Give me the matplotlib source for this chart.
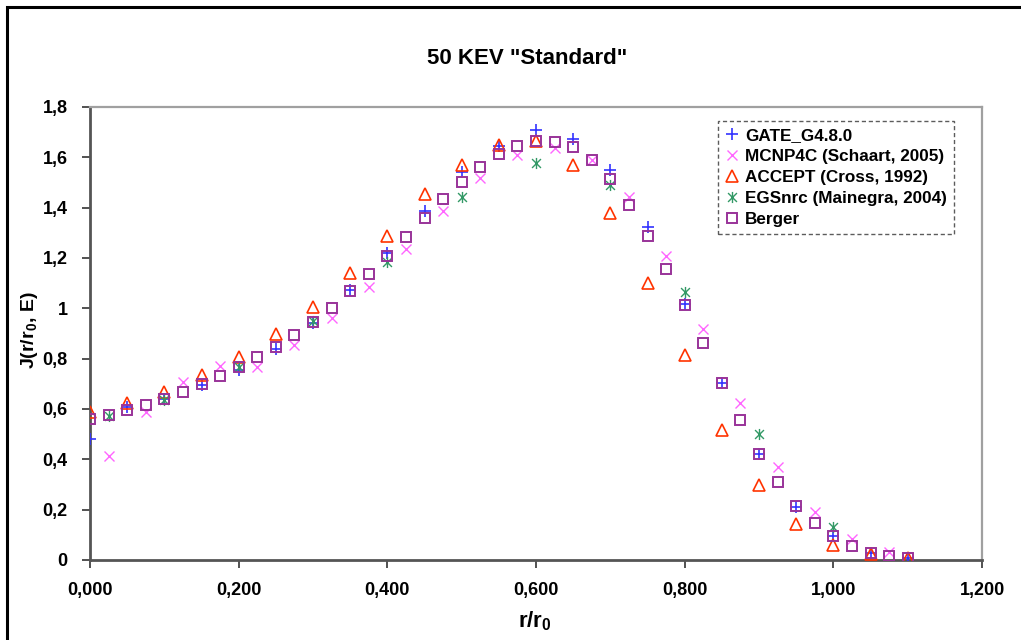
import matplotlib
matplotlib.use("Agg")
import matplotlib.pyplot as plt
from matplotlib.path import Path
from matplotlib.patches import Rectangle
from matplotlib.ticker import FuncFormatter, MultipleLocator

# ---------------- data ----------------
title = '50 KEV "Standard"'
xlabel = r'r/r$_{\mathbf{0}}$'
ylabel = r'J(r/r$_{\mathbf{0}}$, E)'

gate_x = [0.0, 0.05, 0.1, 0.15, 0.2, 0.25, 0.3, 0.35, 0.4, 0.45, 0.5, 0.55,
          0.6, 0.65, 0.7, 0.75, 0.8, 0.85, 0.9, 0.95, 1.0, 1.05, 1.1]
gate_y = [0.48, 0.609, 0.64, 0.695, 0.755, 0.839, 0.943, 1.072, 1.218, 1.388,
          1.543, 1.645, 1.707, 1.674, 1.548, 1.325, 1.016, 0.705, 0.42, 0.21,
          0.095, 0.026, 0.007]

mcnp_x = [0.025, 0.075, 0.125, 0.175, 0.225, 0.275, 0.325, 0.375, 0.425, 0.475,
          0.525, 0.575, 0.625, 0.675, 0.725, 0.775, 0.825, 0.875, 0.925, 0.975,
          1.025, 1.075]
mcnp_y = [0.415, 0.59, 0.707, 0.77, 0.768, 0.854, 0.96, 1.086, 1.237, 1.387,
          1.517, 1.609, 1.636, 1.589, 1.444, 1.208, 0.918, 0.625, 0.371, 0.19,
          0.085, 0.033]

accept_x = [0.0, 0.05, 0.1, 0.15, 0.2, 0.25, 0.3, 0.35, 0.4, 0.45, 0.5, 0.55,
            0.6, 0.65, 0.7, 0.75, 0.8, 0.85, 0.9, 0.95, 1.0, 1.05, 1.1]
accept_y = [0.59, 0.625, 0.669, 0.735, 0.805, 0.898, 1.007, 1.142, 1.287, 1.454,
            1.569, 1.649, 1.666, 1.569, 1.377, 1.102, 0.815, 0.517, 0.298, 0.143,
            0.06, 0.024, 0.007]

egs_x = [0.025, 0.1, 0.2, 0.3, 0.4, 0.5, 0.6, 0.7, 0.8, 0.9, 1.0]
egs_y = [0.572, 0.636, 0.768, 0.95, 1.185, 1.441, 1.579, 1.49, 1.066, 0.499, 0.13]

berger_x = [0.0, 0.025, 0.05, 0.075, 0.1, 0.125, 0.15, 0.175, 0.2, 0.225, 0.25,
            0.275, 0.3, 0.325, 0.35, 0.375, 0.4, 0.425, 0.45, 0.475, 0.5, 0.525,
            0.55, 0.575, 0.6, 0.625, 0.65, 0.675, 0.7, 0.725, 0.75, 0.775, 0.8,
            0.825, 0.85, 0.875, 0.9, 0.925, 0.95, 0.975, 1.0, 1.025, 1.05, 1.075,
            1.1]
berger_y = [0.559, 0.575, 0.596, 0.615, 0.638, 0.669, 0.699, 0.731, 0.766, 0.805,
            0.846, 0.894, 0.947, 1.0, 1.069, 1.136, 1.208, 1.285, 1.358, 1.433,
            1.501, 1.56, 1.613, 1.645, 1.666, 1.662, 1.642, 1.589, 1.514, 1.411,
            1.289, 1.156, 1.013, 0.861, 0.705, 0.556, 0.42, 0.309, 0.216, 0.146,
            0.095, 0.056, 0.029, 0.017, 0.007]

labels = ['GATE_G4.8.0', 'MCNP4C (Schaart, 2005)', 'ACCEPT (Cross, 1992)',
          'EGSnrc (Mainegra, 2004)', 'Berger']

# ---------------- style ----------------
FONT = 'Liberation Sans'
plt.rcParams['font.family'] = [FONT, 'DejaVu Sans']
plt.rcParams['mathtext.fontset'] = 'custom'
plt.rcParams['mathtext.rm'] = FONT + ':bold'
plt.rcParams['mathtext.bf'] = FONT + ':bold'
plt.rcParams['mathtext.it'] = FONT + ':bold'

W, H = 1021, 640
fig = plt.figure(figsize=(W / 100, H / 100), dpi=100)

# outer chart border (black)
fig.patches.append(Rectangle((7 / W, -0.05), 1.1, 1 - 7 / H + 0.05,
                             transform=fig.transFigure, fill=False,
                             edgecolor='black', linewidth=2.2))

ax = fig.add_axes([90 / W, 80 / H, 892 / W, 453 / H])
ax.set_xlim(0, 1.2)
ax.set_ylim(0, 1.8)

# asterisk marker (x with vertical bar)
star = Path([(-0.8, -0.8), (0.8, 0.8), (-0.8, 0.8), (0.8, -0.8), (0, -1.0), (0, 1.0)],
            [Path.MOVETO, Path.LINETO] * 3)

ax.plot(gate_x, gate_y, linestyle='none', marker='+', markersize=9,
        markeredgewidth=1.2, color='#3333FF', label=labels[0], zorder=3)
ax.plot(mcnp_x, mcnp_y, linestyle='none', marker='x', markersize=7.5,
        markeredgewidth=1.0, color='#FF66FF', label=labels[1], zorder=3)
ax.plot(accept_x, accept_y, linestyle='none', marker='^', markersize=8.5,
        markerfacecolor='none', markeredgewidth=1.2, color='#FF3300',
        label=labels[2], zorder=3)
ax.plot(egs_x, egs_y, linestyle='none', marker=star, markersize=8,
        markeredgewidth=1.0, color='#339966', markerfacecolor='none',
        label=labels[3], zorder=3)
ax.plot(berger_x, berger_y, linestyle='none', marker='s', markersize=7.5,
        markerfacecolor='none', markeredgewidth=1.4, color='#993399',
        label=labels[4], zorder=3)

# spines
for s in ['left', 'bottom']:
    ax.spines[s].set_color('#555555')
    ax.spines[s].set_linewidth(2.0)
for s in ['top', 'right']:
    ax.spines[s].set_color('#A0A0A0')
    ax.spines[s].set_linewidth(1.6)

ax.xaxis.set_major_locator(MultipleLocator(0.2))
ax.yaxis.set_major_locator(MultipleLocator(0.2))
ax.xaxis.set_major_formatter(FuncFormatter(lambda v, p: f'{v:.3f}'.replace('.', ',')))


def yfmt(v, p):
    if abs(v - round(v)) < 1e-9:
        return f'{int(round(v))}'
    return f'{v:.1f}'.replace('.', ',')


ax.yaxis.set_major_formatter(FuncFormatter(yfmt))
ax.tick_params(axis='both', direction='out', length=6, width=1.2, color='#333333',
               labelsize=13, pad=10)
ax.tick_params(top=False, right=False)
for t in ax.get_xticklabels() + ax.get_yticklabels():
    t.set_fontweight('bold')

# title & axis labels
fig.text(527 / W, 1 - 58 / H, title, ha='center', va='center', fontsize=16,
         fontweight='bold')
fig.text(535 / W, 1 - 621 / H, xlabel, ha='center', va='center', fontsize=16,
         fontweight='bold')
fig.text(30 / W, 1 - 330 / H, ylabel, ha='center', va='center', fontsize=14,
         fontweight='bold', rotation=90)

leg = ax.legend(loc='upper left', bbox_to_anchor=(0.704, 0.969), numpoints=1,
                frameon=True, fancybox=False, handlelength=0.9,
                handletextpad=0.3, labelspacing=0.35, borderpad=0.4,
                borderaxespad=0.0,
                prop={'family': FONT, 'weight': 'bold', 'size': 12.3})
fr = leg.get_frame()
fr.set_edgecolor('#333333')
fr.set_linestyle((0, (3, 2)))
fr.set_linewidth(1.0)

fig.savefig('out.png', dpi=100)
